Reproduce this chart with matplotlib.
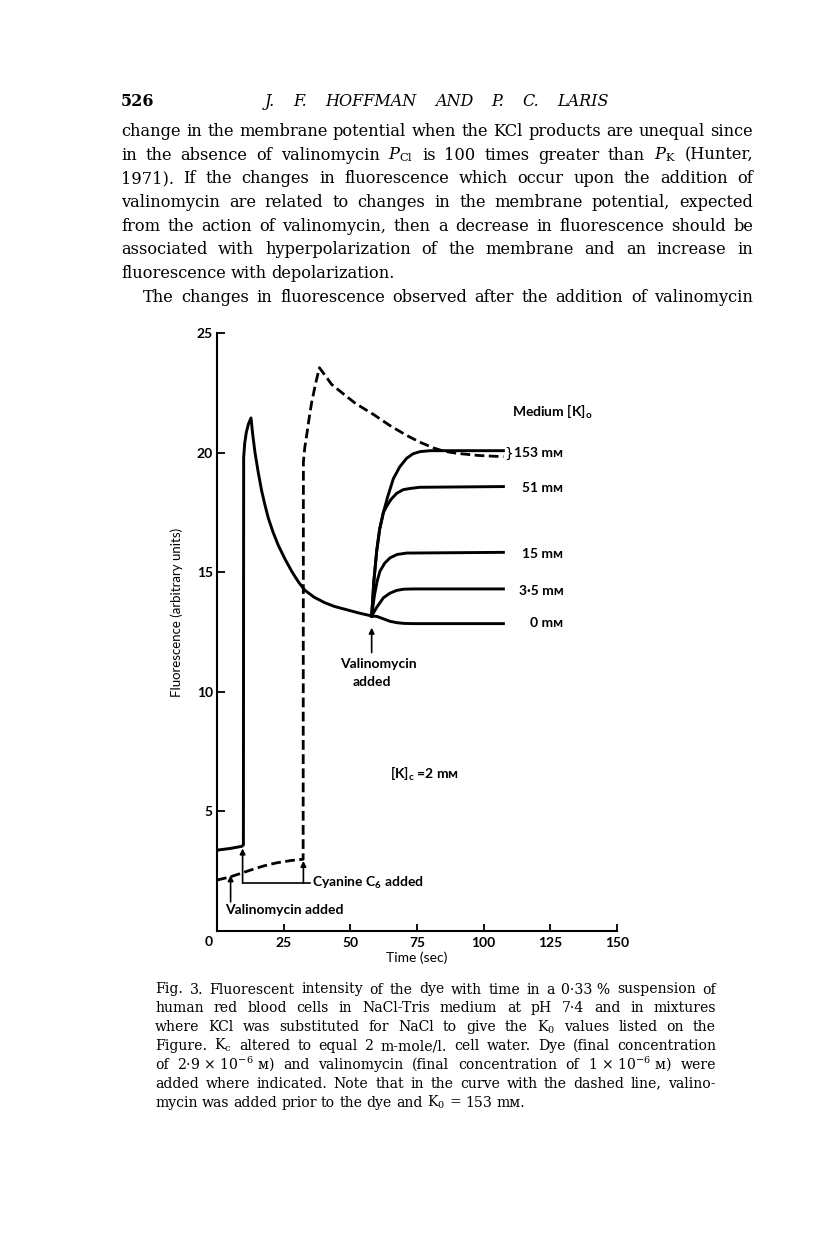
import matplotlib
matplotlib.use("Agg")
import matplotlib.pyplot as plt

W, H = 816, 1243  # page size in pixels

# Curves: time (sec), fluorescence (arbitrary units)
solid_t = [0, 4.9, 9.3, 9.9, 10.0, 10.4, 11.0, 11.8, 12.75, 13.4, 14.25, 15.5, 16.75, 18.0,
           19.25, 21.0, 23.0, 25.5, 28.0, 30.5, 33.0, 36.5, 40.5, 44.0, 48.0, 53.0, 58.0]
solid_f = [3.38, 3.45, 3.54, 3.6, 19.8, 20.4, 20.85, 21.2, 21.45, 20.75, 20.0, 19.15, 18.4, 17.8,
           17.26, 16.68, 16.12, 15.55, 15.04, 14.6, 14.24, 13.95, 13.72, 13.57, 13.45, 13.3, 13.17]

dash_t = [0, 4.9, 12.4, 17.5, 22.4, 28.0, 32.3, 32.4, 32.9, 33.6, 34.5, 35.5, 37.0, 38.4,
          43.0, 48.0, 52.0, 58.6, 65.0, 71.1, 76.0, 81.1, 85.0, 89.9, 98.0, 107.4]
dash_f = [2.13, 2.26, 2.54, 2.72, 2.85, 2.95, 3.0, 19.6, 20.2, 20.7, 21.4, 22.1, 22.9, 23.55,
          22.85, 22.4, 22.05, 21.6, 21.12, 20.72, 20.44, 20.2, 20.06, 19.97, 19.88, 19.83]

# after valinomycin: one curve per medium [K]o
k153_t = [58, 58.8, 59.9, 61.0, 62.4, 64.0, 66.1, 68.5, 71.1, 73.5, 76.1, 80.0, 83.6, 107.4]
k153_f = [13.17, 14.6, 15.9, 16.8, 17.5, 18.15, 18.9, 19.4, 19.76, 19.95, 20.04, 20.08, 20.08, 20.08]
k51_t = [58, 58.8, 59.9, 61.0, 62.4, 63.6, 65.3, 67.4, 69.8, 72.4, 76.0, 107.4]
k51_f = [13.17, 14.6, 15.9, 16.8, 17.5, 17.75, 18.05, 18.3, 18.45, 18.5, 18.55, 18.58]
k15_t = [58, 59.0, 60.0, 61.1, 62.9, 64.9, 67.5, 71.1, 107.4]
k15_f = [13.17, 14.0, 14.6, 15.04, 15.38, 15.6, 15.74, 15.8, 15.83]
k35_t = [58, 60.0, 62.4, 64.8, 67.4, 70.0, 73.6, 107.4]
k35_f = [13.17, 13.55, 13.93, 14.12, 14.24, 14.29, 14.3, 14.3]
k0_t = [58, 60.0, 62.4, 64.8, 67.4, 70.0, 73.6, 107.4]
k0_f = [13.17, 13.15, 13.05, 12.95, 12.89, 12.86, 12.85, 12.85]

MM = "m\u1d0d"  # millimolar, small-cap M
medium_labels = ["153 " + MM, "51 " + MM, "15 " + MM, "3\u00b75 " + MM, "0 " + MM]
medium_label_y = [19.97, 18.5, 15.76, 14.2, 12.89]

x_ticks = [0, 25, 50, 75, 100, 125, 150]
y_ticks = [5, 10, 15, 20, 25]

header_words = ["J.", "F.", "HOFFMAN", "AND", "P.", "C.", "LARIS"]

body_lines = [
    "change in the membrane potential when the KCl products are unequal since",
    r"in the absence of valinomycin $P_{\mathrm{Cl}}$ is 100 times greater than $P_{\mathrm{K}}$ (Hunter,",
    "1971). If the changes in fluorescence which occur upon the addition of",
    "valinomycin are related to changes in the membrane potential, expected",
    "from the action of valinomycin, then a decrease in fluorescence should be",
    "associated with hyperpolarization of the membrane and an increase in",
    "fluorescence with depolarization.",
    "The changes in fluorescence observed after the addition of valinomycin",
]

caption_lines = [
    "Fig. 3. Fluorescent intensity of the dye with time in a 0\u00b733\u00a0% suspension of",
    "human red blood cells in NaCl-Tris medium at pH 7\u00b74 and in mixtures",
    "where KCl was substituted for NaCl to give the K$_0$ values listed on the",
    "Figure. K$_{\\mathrm{c}}$ altered to equal 2 m-mole/l. cell water. Dye (final concentration",
    "of 2\u00b79\u00a0\u00d7\u00a010$^{-6}$\u00a0\u1d0d) and valinomycin (final concentration of "
    "1\u00a0\u00d7\u00a010$^{-6}$\u00a0\u1d0d) were",
    "added where indicated. Note that in the curve with the dashed line, valino-",
    "mycin was added prior to the dye and K$_0$ = 153 " + MM + ".",
]

plt.rcParams['font.family'] = ['Lato', 'DejaVu Sans']
plt.rcParams['font.weight'] = 'bold'
plt.rcParams['mathtext.fontset'] = 'custom'
plt.rcParams['mathtext.rm'] = 'DejaVu Serif:weight=normal'
plt.rcParams['mathtext.it'] = 'DejaVu Serif:italic:weight=normal'
plt.rcParams['mathtext.sf'] = 'Lato:bold'

fig = plt.figure(figsize=(W / 100, H / 100), dpi=100)
renderer = fig.canvas.get_renderer()
serif = ['DejaVu Serif', 'DejaVu Sans']


def put_line(words, x0, x1, y, size, justify=True, **kw):
    # place words on one baseline (pixel coords), spread to fill x0..x1
    arts = [fig.text(0, 1 - y / H, w, fontsize=size, va='baseline', ha='left', **kw) for w in words]
    widths = [a.get_window_extent(renderer).width for a in arts]
    if justify and len(words) > 1:
        gap = (x1 - x0 - sum(widths)) / (len(words) - 1)
    else:
        gap = 0.3 * size * 100 / 72
    x = x0
    for a, w in zip(arts, widths):
        a.set_x(x / W)
        x += w + gap


# running head
fig.text(121 / W, 1 - 106 / H, "526", fontsize=11.5, family=serif, fontweight='bold',
         va='baseline', ha='left')
put_line(header_words, 265, 609, 106, 11.5, family=serif, style='italic', fontweight='normal')

# body text
for i, line in enumerate(body_lines):
    x0 = 143 if i == 7 else 121
    put_line(line.split(' '), x0, 753, 136 + 23.7 * i, 11.7, justify=(i != 6),
             family=serif, fontweight='normal')

# caption
for i, line in enumerate(caption_lines):
    put_line(line.split(' '), 155, 716, 993.5 + 18.85 * i, 10.1,
             justify=(i != len(caption_lines) - 1), family=serif, fontweight='normal')

# ---- the chart ----
ax = fig.add_axes([217 / W, 1 - 931 / H, 400 / W, 598 / H])
ax.plot(solid_t, solid_f, color='black', lw=2.1, solid_joinstyle='round')
ax.plot(dash_t, dash_f, color='black', lw=2.0, dashes=(3.5, 1.6))
for t, f in [(k153_t, k153_f), (k51_t, k51_f), (k15_t, k15_f), (k35_t, k35_f), (k0_t, k0_f)]:
    ax.plot(t, f, color='black', lw=2.1, solid_joinstyle='round')

for lab, yy in zip(medium_labels, medium_label_y):
    ax.text(129.9, yy, lab, ha='right', va='center', fontsize=10)
ax.text(107.6, 19.96, '}', ha='left', va='center', fontsize=10, fontweight='normal',
        family='DejaVu Sans')
ax.text(110.5, 21.7, 'Medium [K]$_\\mathsf{o}$', ha='left', va='center', fontsize=10)
ax.text(64.9, 6.57, '[K]$_\\mathsf{c}$ =2 ' + MM, ha='left', va='center', fontsize=10)

arrow = dict(arrowstyle='-|>', color='black', lw=1.2, mutation_scale=8, shrinkA=0, shrinkB=0)
ax.annotate('', xy=(58, 12.68), xytext=(58, 11.64), arrowprops=arrow)
ax.text(60.4, 11.15, 'Valinomycin', ha='center', va='center', fontsize=10)
ax.text(58.1, 10.39, 'added', ha='center', va='center', fontsize=10)

ax.annotate('', xy=(5.1, 2.33), xytext=(5.1, 1.22), arrowprops=arrow)
ax.text(3.0, 0.875, 'Valinomycin added', ha='left', va='center', fontsize=10)

ax.annotate('', xy=(9.6, 3.45), xytext=(9.6, 2.0), arrowprops=arrow)
ax.annotate('', xy=(32.4, 2.93), xytext=(32.4, 2.0), arrowprops=arrow)
ax.plot([9.6, 35.0], [2.0, 2.0], color='black', lw=1.2)
ax.text(35.5, 2.0, 'Cyanine C$_\\mathsf{6}$ added', ha='left', va='center', fontsize=10)

ax.set_xlim(0, 150)
ax.set_ylim(0, 25)
ax.spines[['top', 'right']].set_visible(False)
for s in ['left', 'bottom']:
    ax.spines[s].set_linewidth(1.5)
ax.set_xticks(x_ticks)
ax.set_xticklabels([''] + [str(v) for v in x_ticks[1:]])
ax.set_yticks(y_ticks)
ax.tick_params(direction='in', length=6, width=1.3, labelsize=10, pad=3)
ax.tick_params(axis='x', length=5, pad=4)
ax.text(-3.0, -0.45, '0', ha='center', va='center', fontsize=10, clip_on=False)

ax.set_xlabel('Time (sec)', fontsize=10)
ax.xaxis.set_label_coords(0.5, -0.035)
ax.set_ylabel('Fluorescence (arbitrary units)', fontsize=9.5)
ax.yaxis.set_label_coords(-0.085, 0.532)

fig.savefig('out.png', dpi=100)
